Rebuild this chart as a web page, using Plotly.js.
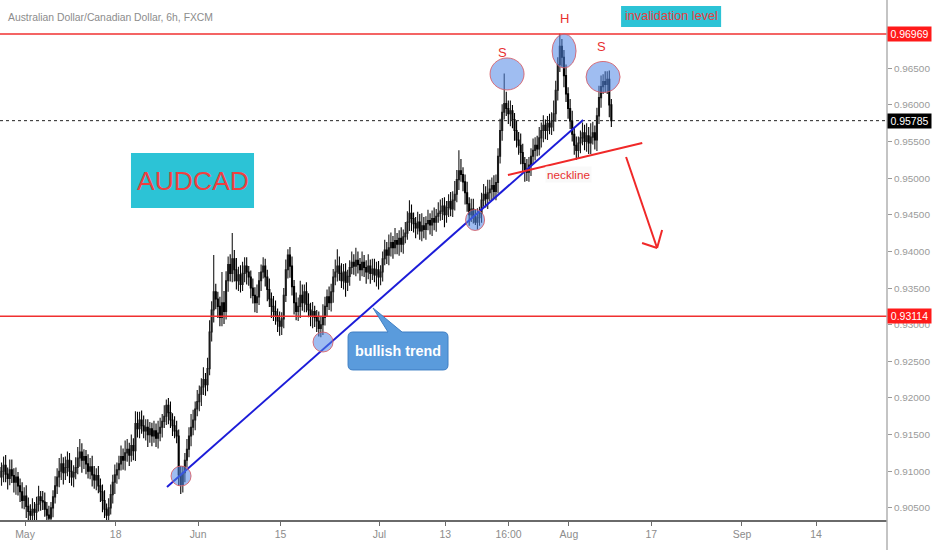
<!DOCTYPE html>
<html>
<head>
<meta charset="utf-8">
<script src="https://cdn.plot.ly/plotly-3.0.1.min.js"></script>
<style>html,body{margin:0;padding:0;background:#fff;}#chart{width:932px;height:550px;}</style>
</head>
<body>
<div id="chart"></div>
<script>
// ---- data: AUDCAD 6h candles, one row per trading day ----
const firstCandleDay = -3.6;   // trading-day index of first candle (May 1 = 0)
const candleStep = 0.25;       // 6h = quarter of a trading day

const opens = [
.9090,.9098,.9105,.9092, .9100,.9108,.9096,.9090, .9102,.9094,.9085,.9092, .9080,.9072,.9060,.9066,
.9052,.9045,.9040,.9048, .9044,.9055,.9065,.9060, .9058,.9048,.9040,.9036, .9050,.9065,.9080,.9092,
.9100,.9110,.9098,.9105, .9115,.9100,.9092,.9098, .9105,.9118,.9126,.9115, .9120,.9110,.9100,.9106,
.9095,.9088,.9094,.9080, .9072,.9060,.9048,.9040, .9050,.9068,.9085,.9095, .9102,.9110,.9120,.9115,
.9125,.9130,.9122,.9135, .9128,.9165,.9158,.9170, .9162,.9155,.9160,.9150, .9158,.9148,.9155,.9145,
.9152,.9160,.9168,.9175, .9190,.9180,.9170,.9162, .9155,.9148,.9095,.9082, .9098,.9115,.9130,.9148,
.9160,.9170,.9185,.9195, .9205,.9215,.9225,.9218, .9240,.9290,.9320,.9345, .9335,.9325,.9310,.9330,
.9318,.9360,.9382,.9370, .9390,.9375,.9360,.9368, .9355,.9370,.9380,.9372, .9365,.9350,.9340,.9330,
.9338,.9360,.9372,.9380, .9365,.9348,.9335,.9325, .9318,.9312,.9305,.9298, .9308,.9340,.9375,.9395,
.9380,.9352,.9330,.9318, .9325,.9340,.9330,.9345, .9328,.9320,.9312,.9318, .9310,.9305,.9295,.9300,
.9310,.9325,.9338,.9330, .9345,.9365,.9372,.9380, .9370,.9360,.9372,.9358, .9366,.9378,.9385,.9380,
.9388,.9382,.9375,.9385, .9378,.9372,.9380,.9370, .9376,.9368,.9375,.9365, .9372,.9390,.9402,.9395,
.9405,.9412,.9405,.9415, .9410,.9418,.9410,.9420, .9425,.9440,.9452,.9445, .9438,.9432,.9440,.9428,
.9435,.9430,.9438,.9442, .9436,.9445,.9440,.9448, .9452,.9455,.9462,.9450, .9460,.9468,.9458,.9470,
.9478,.9498,.9510,.9505, .9495,.9480,.9465,.9450, .9458,.9448,.9440,.9446, .9452,.9470,.9478,.9472,
.9480,.9485,.9490,.9482, .9494,.9530,.9565,.9590, .9602,.9595,.9588,.9592, .9580,.9565,.9552,.9545,
.9535,.9520,.9512,.9508, .9518,.9530,.9538,.9545, .9540,.9555,.9565,.9572, .9565,.9575,.9570,.9578,
.9588,.9620,.9655,.9680, .9665,.9640,.9615,.9595, .9578,.9560,.9545,.9538, .9548,.9555,.9562,.9550,
.9558,.9548,.9556,.9562, .9552,.9585,.9610,.9625, .9632,.9628,.9635,.9600
];
const highs = [
.9112,.9117,.9118,.9112, .9120,.9122,.9105,.9116, .9116,.9104,.9105,.9099, .9090,.9085,.9078,.9081,
.9064,.9055,.9063,.9058, .9065,.9080,.9073,.9073, .9071,.9058,.9053,.9058, .9074,.9093,.9104,.9118,
.9124,.9119,.9120,.9127, .9125,.9115,.9108,.9119, .9133,.9144,.9138,.9130, .9129,.9123,.9118,.9121,
.9107,.9104,.9107,.9090, .9082,.9074,.9056,.9063, .9082,.9095,.9109,.9112, .9121,.9135,.9131,.9142,
.9144,.9139,.9150,.9145, .9182,.9181,.9181,.9183, .9176,.9171,.9171,.9167, .9166,.9169,.9165,.9169,
.9173,.9178,.9190,.9198, .9200,.9195,.9179,.9175, .9169,.9157,.9107,.9107, .9125,.9144,.9160,.9178,
.9184,.9195,.9211,.9217, .9227,.9242,.9234,.9255, .9306,.9332,.9395,.9356, .9345,.9338,.9372,.9346,
.9373,.9393,.9396,.9425, .9402,.9391,.9379,.9381, .9386,.9392,.9392,.9380, .9374,.9363,.9351,.9355,
.9372,.9382,.9392,.9390, .9375,.9363,.9344,.9339, .9333,.9322,.9318,.9317, .9350,.9389,.9403,.9406,
.9393,.9361,.9344,.9337, .9360,.9355,.9355,.9358, .9343,.9330,.9331,.9326, .9320,.9318,.9312,.9328,
.9338,.9348,.9352,.9356, .9376,.9389,.9403,.9393, .9384,.9383,.9384,.9375, .9388,.9400,.9396,.9405,
.9400,.9391,.9400,.9395, .9388,.9396,.9389,.9390, .9390,.9386,.9387,.9381, .9400,.9416,.9413,.9423,
.9426,.9421,.9432,.9425, .9429,.9433,.9430,.9440, .9455,.9470,.9464,.9453, .9447,.9454,.9451,.9452,
.9447,.9448,.9457,.9452, .9456,.9460,.9458,.9467, .9471,.9473,.9474,.9469, .9478,.9481,.9482,.9496,
.9511,.9538,.9526,.9515, .9505,.9495,.9474,.9472, .9472,.9458,.9459,.9461, .9480,.9492,.9489,.9498,
.9498,.9501,.9504,.9505, .9541,.9581,.9601,.9643, .9618,.9606,.9606,.9600, .9589,.9578,.9563,.9561,
.9547,.9529,.9526,.9529, .9541,.9554,.9556,.9558, .9570,.9576,.9586,.9580, .9585,.9588,.9590,.9606,
.9633,.9665,.9697,.9690, .9675,.9655,.9624,.9608, .9592,.9570,.9557,.9557, .9565,.9576,.9573,.9575,
.9570,.9575,.9577,.9572, .9596,.9626,.9640,.9642, .9646,.9646,.9647,.9608
];
const lows = [
.9078,.9083,.9082,.9080, .9085,.9085,.9075,.9081, .9084,.9071,.9068,.9067, .9058,.9049,.9048,.9036,
.9031,.9023,.9030,.9028, .9029,.9045,.9046,.9047, .9038,.9026,.9018,.9025, .9037,.9056,.9069,.9078,
.9088,.9082,.9088,.9093, .9084,.9080,.9078,.9089, .9096,.9106,.9098,.9103, .9096,.9090,.9089,.9079,
.9076,.9074,.9070,.9058, .9044,.9036,.9023,.9031, .9041,.9056,.9069,.9083, .9089,.9101,.9102,.9101,
.9113,.9107,.9113,.9115, .9114,.9146,.9145,.9151, .9145,.9142,.9133,.9139, .9134,.9139,.9133,.9131,
.9141,.9146,.9159,.9163, .9164,.9159,.9148,.9145, .9138,.9080,.9069,.9071, .9085,.9105,.9119,.9134,
.9149,.9156,.9175,.9182, .9189,.9204,.9203,.9209, .9231,.9277,.9303,.9321, .9309,.9298,.9298,.9301,
.9307,.9345,.9359,.9358, .9359,.9348,.9346,.9344, .9346,.9358,.9355,.9353, .9336,.9329,.9317,.9316,
.9327,.9346,.9363,.9352, .9332,.9324,.9309,.9305, .9300,.9290,.9285,.9286, .9295,.9331,.9363,.9364,
.9340,.9314,.9306,.9305, .9309,.9319,.9317,.9317, .9310,.9298,.9295,.9297, .9290,.9284,.9283,.9286,
.9299,.9311,.9320,.9318, .9330,.9354,.9359,.9360, .9350,.9348,.9338,.9346, .9353,.9369,.9368,.9366,
.9370,.9360,.9366,.9365, .9356,.9362,.9356,.9361, .9358,.9352,.9348,.9354, .9359,.9381,.9383,.9381,
.9393,.9390,.9396,.9396, .9394,.9399,.9397,.9411, .9416,.9428,.9428,.9426, .9418,.9423,.9416,.9414,
.9418,.9416,.9429,.9423, .9421,.9429,.9427,.9439, .9442,.9443,.9433,.9439, .9447,.9448,.9447,.9456,
.9467,.9484,.9495,.9482, .9464,.9454,.9435,.9440, .9438,.9436,.9430,.9435, .9439,.9461,.9460,.9458,
.9469,.9470,.9472,.9470, .9479,.9520,.9551,.9580, .9585,.9574,.9571,.9568, .9551,.9542,.9532,.9519,
.9508,.9495,.9496,.9495, .9503,.9519,.9524,.9530, .9531,.9542,.9549,.9553, .9552,.9560,.9559,.9564,
.9577,.9606,.9645,.9652, .9624,.9604,.9581,.9567, .9550,.9532,.9525,.9526, .9534,.9545,.9538,.9536,
.9533,.9533,.9546,.9539, .9537,.9574,.9596,.9615, .9617,.9615,.9583,.9570
];
const closes = [
.9098,.9105,.9092,.9100, .9108,.9096,.9090,.9102, .9094,.9085,.9092,.9080, .9072,.9060,.9066,.9052,
.9045,.9040,.9048,.9044, .9055,.9065,.9060,.9058, .9048,.9040,.9036,.9050, .9065,.9080,.9092,.9100,
.9110,.9098,.9105,.9115, .9100,.9092,.9098,.9105, .9118,.9126,.9115,.9120, .9110,.9100,.9106,.9095,
.9088,.9094,.9080,.9072, .9060,.9048,.9040,.9050, .9068,.9085,.9095,.9102, .9110,.9120,.9115,.9125,
.9130,.9122,.9135,.9128, .9165,.9158,.9170,.9162, .9155,.9160,.9150,.9158, .9148,.9155,.9145,.9152,
.9160,.9168,.9175,.9190, .9180,.9170,.9162,.9155, .9148,.9095,.9082,.9098, .9115,.9130,.9148,.9160,
.9170,.9185,.9195,.9205, .9215,.9225,.9218,.9240, .9290,.9320,.9345,.9335, .9325,.9310,.9330,.9318,
.9360,.9382,.9370,.9390, .9375,.9360,.9368,.9355, .9370,.9380,.9372,.9365, .9350,.9340,.9330,.9338,
.9360,.9372,.9380,.9365, .9348,.9335,.9325,.9318, .9312,.9305,.9298,.9308, .9340,.9375,.9395,.9380,
.9352,.9330,.9318,.9325, .9340,.9330,.9345,.9328, .9320,.9312,.9318,.9310, .9305,.9295,.9300,.9310,
.9325,.9338,.9330,.9345, .9365,.9372,.9380,.9370, .9360,.9372,.9358,.9366, .9378,.9385,.9380,.9388,
.9382,.9375,.9385,.9378, .9372,.9380,.9370,.9376, .9368,.9375,.9365,.9372, .9390,.9402,.9395,.9405,
.9412,.9405,.9415,.9410, .9418,.9410,.9420,.9425, .9440,.9452,.9445,.9438, .9432,.9440,.9428,.9435,
.9430,.9438,.9442,.9436, .9445,.9440,.9448,.9452, .9455,.9462,.9450,.9460, .9468,.9458,.9470,.9478,
.9498,.9510,.9505,.9495, .9480,.9465,.9450,.9458, .9448,.9440,.9446,.9452, .9470,.9478,.9472,.9480,
.9485,.9490,.9482,.9494, .9530,.9565,.9590,.9602, .9595,.9588,.9592,.9580, .9565,.9552,.9545,.9535,
.9520,.9512,.9508,.9518, .9530,.9538,.9545,.9540, .9555,.9565,.9572,.9565, .9575,.9570,.9578,.9588,
.9620,.9655,.9680,.9665, .9640,.9615,.9595,.9578, .9560,.9545,.9538,.9548, .9555,.9562,.9550,.9558,
.9548,.9556,.9562,.9552, .9585,.9610,.9625,.9632, .9628,.9635,.9600,.95785
];

// axis ticks
const dayTicks  = [0, 11, 21, 31, 43, 51, 58.67, 66, 76, 87, 96];
const dayLabels = ['May', '18', 'Jun', '15', 'Jul', '13', '16:00', 'Aug', '17', 'Sep', '14'];
const priceTicks = [0.905, 0.910, 0.915, 0.920, 0.925, 0.930, 0.935, 0.940, 0.945, 0.950, 0.955, 0.960, 0.965];

// key levels
const invalidationLevel = 0.96969;
const supportLevel = 0.93114;
const lastPrice = 0.95785;

// ---- pick the narrowest installed sans font and fit text sizes ----
const ctx = document.createElement('canvas').getContext('2d');
function textWidth(fam, size, txt, bold) { ctx.font = (bold ? 'bold ' : '') + size + 'px ' + fam; return ctx.measureText(txt).width; }
const fontCandidates = ['"Liberation Sans Narrow", sans-serif', '"DejaVu Sans Condensed", sans-serif',
  '"Liberation Sans", sans-serif', 'Roboto, sans-serif', '"Noto Sans", sans-serif', 'Lato, sans-serif'];
let FONT = fontCandidates[0], best = 1e9;
fontCandidates.forEach(f => { const w = textWidth(f, 20, '0.96500 Australian Dollar'); if (w < best - 0.5) { best = w; FONT = f; } });
const fit = (txt, target, ref, lo, hi, bold) => Math.max(lo, Math.min(hi, ref * target / textWidth(FONT, ref, txt, bold)));
const tickSize = fit('0.96500', 36, 12, 8, 12);
const tagSize = fit('0.96500', 38, 12, 8, 12);
const titleSize = fit('Australian Dollar/Canadian Dollar, 6h, FXCM', 205, 12, 8, 12.5);
const audSize = fit('AUDCAD', 112, 34, 20, 36);
const invSize = fit('invalidation level', 93, 13, 8, 14);
const neckSize = fit('neckline', 43, 13, 8, 14);
const bullSize = fit('bullish trend', 86, 15, 9, 16, true);

// ---- chart ----
const xs = opens.map((_, i) => firstCandleDay + i * candleStep);
const RED = '#f03030';

const trace = {
  type: 'candlestick', x: xs, open: opens, high: highs, low: lows, close: closes,
  increasing: {line: {color: '#1a1a1a', width: 1.1}, fillcolor: '#8f8f8f'},
  decreasing: {line: {color: '#000000', width: 1.1}, fillcolor: '#000000'},
  whiskerwidth: 0, hoverinfo: 'skip', showlegend: false
};

const ellipse = (x0, x1, y0, y1) => ({type: 'circle', xref: 'x', yref: 'y', x0, x1, y0, y1,
  fillcolor: 'rgba(80,135,230,0.55)', line: {color: 'rgba(215,90,100,0.85)', width: 1}});
const seg = (x0, y0, x1, y1, color, w) => ({type: 'line', xref: 'x', yref: 'y', x0, y0, x1, y1, line: {color, width: w}});

const shapes = [
  {type: 'line', xref: 'paper', yref: 'y', x0: 0, x1: 1, y0: invalidationLevel, y1: invalidationLevel, line: {color: RED, width: 1.5}},
  {type: 'line', xref: 'paper', yref: 'y', x0: 0, x1: 1, y0: supportLevel, y1: supportLevel, line: {color: RED, width: 1.5}},
  {type: 'line', xref: 'paper', yref: 'y', x0: 0, x1: 1, y0: lastPrice, y1: lastPrice, line: {color: '#222', width: 1, dash: 'dot'}},
  {type: 'line', xref: 'paper', yref: 'paper', x0: 1, x1: 1, y0: -0.06, y1: 1, line: {color: '#b0b0b0', width: 1.5}},
  // trend line and neckline
  seg(17.23, 0.90785, 67.72, 0.95794, '#1c1cd8', 2),
  seg(58.6, 0.95044, 74.9, 0.9548, '#f02828', 2),
  // arrow
  seg(72.94, 0.95289, 76.7, 0.94047, '#f02828', 2),
  seg(74.88, 0.94115, 76.7, 0.94047, '#f02828', 2),
  seg(77.31, 0.94293, 76.7, 0.94047, '#f02828', 2),
  // touches / pattern ellipses
  ellipse(17.72, 20.15, 0.90798, 0.91071),
  ellipse(34.95, 37.38, 0.92627, 0.92900),
  ellipse(53.46, 55.77, 0.94286, 0.94573),
  ellipse(56.43, 60.56, 0.96204, 0.96641),
  ellipse(63.96, 66.87, 0.96504, 0.96968),
  ellipse(68.08, 72.21, 0.96170, 0.96593),
  // AUDCAD box
  {type: 'rect', xref: 'x', yref: 'y', x0: 12.86, x1: 27.79, y0: 0.94593, y1: 0.95344, fillcolor: '#2cc3d6', line: {width: 0}},
  // invalidation level box
  {type: 'rect', xref: 'x', yref: 'y', x0: 72.33, x1: 84.47, y0: 0.97064, y1: 0.97350, fillcolor: '#2cc3d6', line: {width: 0}},
  // bullish trend callout
  {type: 'path', xref: 'x', yref: 'y',
   path: 'M 39.8,0.929 L 44.05,0.929 L 42.23,0.93228 L 45.75,0.929 L 50.73,0.929 Q 51.33,0.929 51.33,0.92832 L 51.33,0.9245 Q 51.33,0.92382 50.73,0.92382 L 39.8,0.92382 Q 39.2,0.92382 39.2,0.9245 L 39.2,0.92832 Q 39.2,0.929 39.8,0.929 Z',
   fillcolor: '#5a9bdc', line: {color: '#3f7fc4', width: 1}}
];

const priceTag = (y, bg) => ({xref: 'paper', yref: 'y', x: 1, y, xanchor: 'left', yanchor: 'middle',
  text: y.toFixed(5), showarrow: false, bgcolor: bg, font: {family: FONT, size: tagSize, color: '#fff'},
  width: 41, height: 12, borderpad: 1, align: 'center'});

const annotations = [
  {xref: 'paper', yref: 'paper', x: 0.007, y: 0.967, xanchor: 'left', yanchor: 'middle', showarrow: false,
   text: 'Australian Dollar/Canadian Dollar, 6h, FXCM', font: {family: FONT, size: titleSize, color: '#8c8c8c'}},
  {xref: 'x', yref: 'y', x: 20.33, y: 0.94968, text: 'AUDCAD', showarrow: false,
   font: {family: FONT, size: audSize, color: '#ee4040'}},
  {xref: 'x', yref: 'y', x: 78.4, y: 0.97207, text: 'invalidation level', showarrow: false,
   font: {family: FONT, size: invSize, color: '#e84040'}},
  {xref: 'x', yref: 'y', x: 45.27, y: 0.92641, text: '<b>bullish trend</b>', showarrow: false,
   font: {family: FONT, size: bullSize, color: '#ffffff'}},
  {xref: 'x', yref: 'y', x: 65.9, y: 0.95044, text: 'neckline', showarrow: false,
   bgcolor: 'rgba(248,248,248,0.9)', font: {family: FONT, size: neckSize, color: '#e83030'}},
  {xref: 'x', yref: 'y', x: 58.0, y: 0.96722, text: 'S', showarrow: false, font: {family: FONT, size: 13, color: '#e83030'}},
  {xref: 'x', yref: 'y', x: 65.5, y: 0.97173, text: 'H', showarrow: false, font: {family: FONT, size: 13, color: '#e83030'}},
  {xref: 'x', yref: 'y', x: 70.0, y: 0.96804, text: 'S', showarrow: false, font: {family: FONT, size: 13, color: '#e83030'}},
  priceTag(invalidationLevel, '#ff1a1a'),
  priceTag(supportLevel, '#ff1a1a'),
  priceTag(lastPrice, '#000000')
];

const layout = {
  width: 932, height: 550,
  margin: {l: 0, r: 45, t: 0, b: 30, pad: 0},
  paper_bgcolor: '#ffffff', plot_bgcolor: '#ffffff',
  showlegend: false,
  xaxis: {
    range: [-3.034, 104.6], rangeslider: {visible: false},
    showgrid: false, zeroline: false, showline: true, linecolor: '#6a6a6a', linewidth: 1.5,
    tickmode: 'array', tickvals: dayTicks, ticktext: dayLabels,
    ticks: 'outside', ticklen: 4, tickcolor: '#6a6a6a', tickwidth: 1,
    tickfont: {family: FONT, size: tickSize + 0.5, color: '#8c8c8c'}, fixedrange: true
  },
  yaxis: {
    side: 'right', range: [0.90334, 0.97432],
    showgrid: false, zeroline: false, showline: false,
    tickmode: 'array', tickvals: priceTicks, ticktext: priceTicks.map(v => v.toFixed(5)),
    ticks: 'outside', ticklen: 4, tickcolor: '#9a9a9a', tickwidth: 1,
    tickfont: {family: FONT, size: tickSize, color: '#9a9a9a'}, fixedrange: true
  },
  shapes, annotations
};

Plotly.newPlot('chart', [trace], layout, {staticPlot: true, displayModeBar: false});
</script>
</body>
</html>
